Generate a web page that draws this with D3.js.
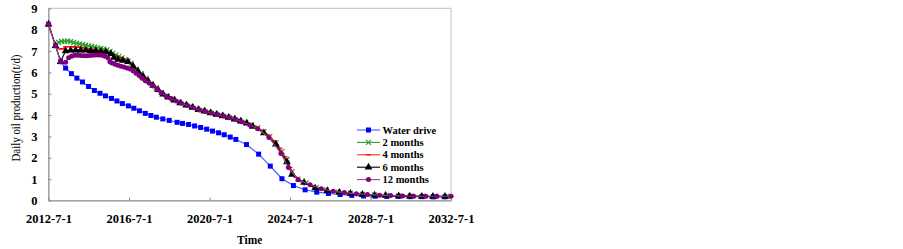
<!DOCTYPE html>
<html>
<head>
<meta charset="utf-8">
<script src="https://cdn.jsdelivr.net/npm/d3@7"></script>
<style>
  body { margin: 0; background: #fff; }
  text { font-family: "Liberation Serif", "Times New Roman", serif; }
</style>
</head>
<body>
<div id="chart"></div>
<script>
// time in decimal years, daily oil production in t/d
const waterDrive = [
  [2012.5, 8.25], [2012.85, 7.25], [2013.1, 6.5], [2013.35, 6.2], [2013.64, 5.94],
  [2013.91, 5.73], [2014.19, 5.55], [2014.49, 5.34], [2014.78, 5.15], [2015.06, 5.02],
  [2015.33, 4.9], [2015.63, 4.78], [2015.9, 4.66], [2016.17, 4.54], [2016.47, 4.43],
  [2016.74, 4.32], [2017.02, 4.2], [2017.31, 4.08], [2017.59, 3.98], [2017.86, 3.9],
  [2018.18, 3.82], [2018.5, 3.75], [2018.89, 3.66], [2019.16, 3.61], [2019.46, 3.56],
  [2019.76, 3.49], [2020.06, 3.42], [2020.36, 3.34], [2020.65, 3.25], [2020.95, 3.17],
  [2021.23, 3.08], [2021.53, 2.97], [2021.81, 2.86], [2022.34, 2.62], [2022.94, 2.17],
  [2023.52, 1.61], [2024.1, 1.02], [2024.67, 0.7], [2025.25, 0.5], [2025.83, 0.39],
  [2026.41, 0.33], [2026.99, 0.28], [2027.57, 0.24], [2028.15, 0.21], [2028.73, 0.2],
  [2029.31, 0.19], [2029.88, 0.19], [2030.47, 0.18], [2031.05, 0.18], [2031.62, 0.17],
  [2032.2, 0.17]
];

const twoMonths = [
  [2012.5, 8.25], [2012.85, 7.25], [2013.0, 7.4], [2013.15, 7.45], [2013.3, 7.45],
  [2013.45, 7.47], [2013.6, 7.44], [2013.75, 7.4], [2013.9, 7.36], [2014.05, 7.33],
  [2014.2, 7.3], [2014.35, 7.27], [2014.5, 7.24], [2014.65, 7.21], [2014.8, 7.18],
  [2014.95, 7.15], [2015.1, 7.12], [2015.25, 7.09], [2015.4, 7.05], [2015.55, 6.98],
  [2015.7, 6.9], [2015.85, 6.82], [2016.0, 6.75], [2016.15, 6.68], [2016.3, 6.6],
  [2016.45, 6.52], [2016.6, 6.42], [2016.85, 6.15], [2017.1, 5.95], [2017.35, 5.72],
  [2017.6, 5.47], [2017.85, 5.27], [2018.1, 5.05], [2018.4, 4.88], [2018.7, 4.74],
  [2019.0, 4.6], [2019.3, 4.5], [2019.6, 4.4], [2019.9, 4.29], [2020.2, 4.22],
  [2020.5, 4.14], [2020.8, 4.07], [2021.1, 4.0], [2021.4, 3.93], [2021.7, 3.85],
  [2022.0, 3.76], [2022.3, 3.66], [2022.6, 3.54], [2022.9, 3.41], [2023.2, 3.22],
  [2023.5, 3.0], [2023.8, 2.7], [2024.1, 2.3], [2024.35, 1.92], [2024.6, 1.35],
  [2024.9, 1.0], [2025.3, 0.82], [2025.8, 0.6], [2026.3, 0.49], [2026.9, 0.39],
  [2027.5, 0.34], [2028.1, 0.29], [2028.7, 0.26], [2029.3, 0.24], [2029.9, 0.22],
  [2030.5, 0.21], [2031.1, 0.2], [2031.7, 0.2], [2032.3, 0.2]
];

const fourMonths = [
  [2012.5, 8.25], [2012.85, 7.25], [2013.05, 7.1], [2013.2, 7.1], [2013.35, 7.2],
  [2013.5, 7.2], [2013.65, 7.2], [2013.8, 7.19], [2013.95, 7.18], [2014.1, 7.17],
  [2014.25, 7.14], [2014.4, 7.11], [2014.55, 7.08], [2014.7, 7.06], [2014.85, 7.04],
  [2015.0, 7.02], [2015.15, 7.0], [2015.3, 6.98], [2015.45, 6.93], [2015.6, 6.88],
  [2015.75, 6.8], [2015.9, 6.74], [2016.05, 6.68], [2016.2, 6.62], [2016.35, 6.55],
  [2016.5, 6.47], [2016.75, 6.22], [2017.0, 5.98], [2017.25, 5.76], [2017.5, 5.52],
  [2017.75, 5.32], [2018.0, 5.1], [2018.3, 4.9], [2018.6, 4.76], [2018.9, 4.62],
  [2019.2, 4.51], [2019.5, 4.41], [2019.8, 4.31], [2020.1, 4.22], [2020.4, 4.15],
  [2020.7, 4.08], [2021.0, 4.0], [2021.3, 3.93], [2021.6, 3.86], [2021.9, 3.77],
  [2022.2, 3.67], [2022.5, 3.56], [2022.8, 3.44], [2023.1, 3.28], [2023.4, 3.07],
  [2023.7, 2.8], [2024.0, 2.45], [2024.25, 2.05], [2024.5, 1.55], [2024.8, 1.08],
  [2025.1, 0.88], [2025.55, 0.71], [2026.05, 0.53], [2026.6, 0.42], [2027.2, 0.36],
  [2027.8, 0.31], [2028.4, 0.27], [2029.0, 0.24], [2029.6, 0.22], [2030.2, 0.21],
  [2030.8, 0.2], [2031.4, 0.19], [2032.0, 0.19], [2032.5, 0.19]
];

const sixMonths = [
  [2012.5, 8.25], [2012.85, 7.25], [2013.1, 6.5], [2013.35, 7.0], [2013.6, 7.03],
  [2013.85, 7.04], [2014.1, 7.04], [2014.35, 7.03], [2014.6, 7.01], [2014.85, 7.0],
  [2015.1, 6.98], [2015.35, 6.95], [2015.6, 6.87], [2015.75, 6.7], [2015.95, 6.6],
  [2016.2, 6.56], [2016.45, 6.5], [2016.7, 6.3], [2016.95, 6.05], [2017.2, 5.82],
  [2017.45, 5.6], [2017.7, 5.38], [2017.95, 5.18], [2018.2, 4.97], [2018.45, 4.83],
  [2018.75, 4.69], [2019.05, 4.56], [2019.35, 4.46], [2019.65, 4.36], [2019.95, 4.25],
  [2020.25, 4.18], [2020.55, 4.1], [2020.85, 4.03], [2021.15, 3.96], [2021.45, 3.89],
  [2021.75, 3.8], [2022.05, 3.71], [2022.35, 3.62], [2022.65, 3.47], [2023.2, 3.16],
  [2023.8, 2.63], [2024.35, 1.8], [2024.6, 1.22], [2025.2, 0.84], [2025.75, 0.58],
  [2026.35, 0.46], [2026.95, 0.38], [2027.5, 0.33], [2028.1, 0.28], [2028.7, 0.25],
  [2029.25, 0.23], [2029.9, 0.21], [2030.45, 0.2], [2031.05, 0.19], [2031.6, 0.19],
  [2032.2, 0.19]
];

const twelveMonths = [
  [2012.5, 8.25], [2012.85, 7.25], [2013.1, 6.5], [2013.35, 6.47], [2013.5, 6.68],
  [2013.65, 6.76], [2013.8, 6.8], [2013.95, 6.8], [2014.1, 6.79], [2014.25, 6.78],
  [2014.4, 6.78], [2014.55, 6.79], [2014.7, 6.8], [2014.85, 6.81], [2015.0, 6.81],
  [2015.15, 6.8], [2015.3, 6.76], [2015.45, 6.68], [2015.55, 6.5], [2015.65, 6.44],
  [2015.8, 6.38], [2015.95, 6.33], [2016.1, 6.29], [2016.25, 6.25], [2016.4, 6.2],
  [2016.55, 6.16], [2016.7, 6.07], [2016.85, 5.96], [2017.0, 5.85], [2017.15, 5.73],
  [2017.3, 5.62], [2017.5, 5.5], [2017.7, 5.36], [2017.9, 5.22], [2018.1, 5.05],
  [2018.35, 4.88], [2018.6, 4.77], [2018.85, 4.66], [2019.1, 4.55], [2019.4, 4.45],
  [2019.7, 4.34], [2020.0, 4.24], [2020.3, 4.17], [2020.6, 4.1], [2020.9, 4.03],
  [2021.2, 3.96], [2021.5, 3.88], [2021.8, 3.79], [2022.1, 3.69], [2022.5, 3.53],
  [2022.9, 3.36], [2023.45, 2.95], [2024.05, 2.2], [2024.42, 1.55], [2024.9, 0.97],
  [2025.5, 0.74], [2026.05, 0.55], [2026.65, 0.43], [2027.2, 0.37], [2027.8, 0.32],
  [2028.35, 0.28], [2028.95, 0.25], [2029.5, 0.23], [2030.1, 0.21], [2030.65, 0.2],
  [2031.25, 0.2], [2031.8, 0.2], [2032.5, 0.2]
];

const xTickValues = [2012.5, 2016.5, 2020.5, 2024.5, 2028.5, 2032.5];
const xTickLabels = ["2012-7-1", "2016-7-1", "2020-7-1", "2024-7-1", "2028-7-1", "2032-7-1"];
const yTicks = [0, 1, 2, 3, 4, 5, 6, 7, 8, 9];

const series = [
  { name: "Water drive", data: waterDrive, line: "#3a5cff", fill: "#0000ff", marker: "square" },
  { name: "2 months", data: twoMonths, line: "#2e9e2e", fill: "#2e9e2e", marker: "x" },
  { name: "4 months", data: fourMonths, line: "#ff2a2a", fill: "#ff0000", marker: "dash" },
  { name: "6 months", data: sixMonths, line: "#000000", fill: "#000000", marker: "triangle" },
  { name: "12 months", data: twelveMonths, line: "#a040a0", fill: "#800080", marker: "circle" }
];

const width = 903, height = 249;
const plotLeft = 48.5, plotRight = 451, plotTop = 8.3, plotBottom = 200.5;

const svg = d3.select("#chart").append("svg")
  .attr("width", width)
  .attr("height", height);

const x = d3.scaleLinear().domain([2012.5, 2032.5]).range([plotLeft, plotRight]);
const y = d3.scaleLinear().domain([0, 9]).range([plotBottom, plotTop]);

// plot frame
svg.append("rect")
  .attr("x", plotLeft).attr("y", plotTop)
  .attr("width", plotRight - plotLeft).attr("height", plotBottom - plotTop)
  .attr("fill", "none").attr("stroke", "#c0c0c0").attr("stroke-width", 1);

const xAxis = svg.append("g")
  .attr("transform", `translate(0,${plotBottom})`)
  .call(d3.axisBottom(x)
    .tickValues(xTickValues)
    .tickFormat((d, i) => xTickLabels[i])
    .tickSizeInner(-3).tickSizeOuter(0).tickPadding(13.5));

const yAxis = svg.append("g")
  .attr("transform", `translate(${plotLeft},0)`)
  .call(d3.axisLeft(y)
    .tickValues(yTicks)
    .tickSizeInner(-3).tickSizeOuter(0).tickPadding(11));

[xAxis, yAxis].forEach(g => {
  g.select(".domain").attr("stroke", "#8c8c8c");
  g.selectAll(".tick line").attr("stroke", "#8c8c8c");
  g.selectAll(".tick text")
    .attr("fill", "#000")
    .style("font-family", '"Liberation Serif", "Times New Roman", serif')
    .style("font-size", "12.5px")
    .style("font-weight", "bold");
});

const markerPath = {
  square: d3.symbol(d3.symbolSquare, 25)(),
  triangle: d3.symbol(d3.symbolTriangle, 26)(),
  circle: d3.symbol(d3.symbolCircle, 20)(),
  x: "M-2.5,-2.5L2.5,2.5M-2.5,2.5L2.5,-2.5",
  dash: "M-2.5,0L2.5,0"
};

const drawMarker = (sel, s) => {
  const stroked = s.marker == "x" || s.marker == "dash";
  sel.attr("d", markerPath[s.marker])
    .attr("fill", stroked ? "none" : s.fill)
    .attr("stroke", stroked ? s.fill : "none")
    .attr("stroke-width", stroked ? 1.2 : 0);
};

const line = d3.line().x(d => x(d[0])).y(d => y(d[1]));

series.forEach(s => {
  const g = svg.append("g");
  g.append("path")
    .datum(s.data)
    .attr("d", line)
    .attr("fill", "none")
    .attr("stroke", s.line)
    .attr("stroke-width", 1.1);
  g.selectAll("path.mk")
    .data(s.data)
    .enter()
    .append("path")
    .attr("class", "mk")
    .attr("transform", d => `translate(${x(d[0])},${y(d[1])})`)
    .call(sel => drawMarker(sel, s));
});

// legend
const legend = svg.append("g").attr("transform", "translate(357,130)");
series.forEach((s, i) => {
  const row = legend.append("g").attr("transform", `translate(0,${i * 12.4})`);
  row.append("line")
    .attr("x1", 0).attr("x2", 23)
    .attr("stroke", s.line).attr("stroke-width", 1.1);
  row.append("path")
    .attr("transform", "translate(11.5,0)")
    .call(sel => drawMarker(sel, s));
  row.append("text")
    .attr("x", 25.5).attr("y", 0)
    .attr("dy", "0.35em")
    .attr("font-size", "10.5px")
    .attr("font-weight", "bold")
    .text(s.name);
});

// axis titles
svg.append("text")
  .attr("x", (plotLeft + plotRight) / 2)
  .attr("y", 244)
  .attr("text-anchor", "middle")
  .attr("font-size", "11.5px")
  .attr("font-weight", "bold")
  .text("Time");

svg.append("text")
  .attr("transform", "translate(20,108) rotate(-90)")
  .attr("text-anchor", "middle")
  .attr("font-size", "12px")
  .attr("textLength", 107)
  .attr("lengthAdjust", "spacingAndGlyphs")
  .text("Daily oil production(t/d)");
</script>
</body>
</html>
